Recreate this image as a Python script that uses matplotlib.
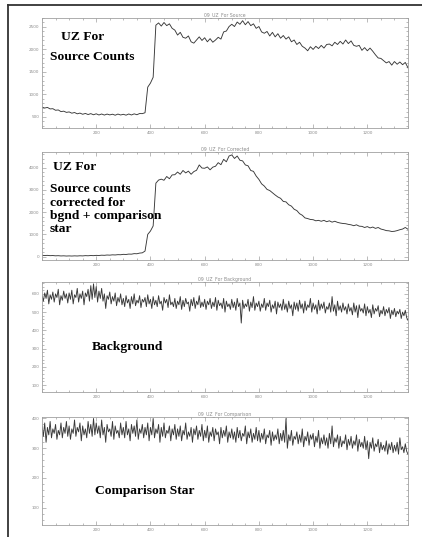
import numpy as np
import matplotlib; matplotlib.use("Agg")
import matplotlib.pyplot as plt
from matplotlib.lines import Line2D
from matplotlib.ticker import MultipleLocator

LINE = "#383838"; FRAME = "#a0a0a0"; LABEL = "#8a8a8a"

# sample index (coarse for the smooth panels, finer for the noisy ones)
x_coarse = np.arange(0, 1360, 10)
x_fine = np.arange(0, 1355, 5)

source = [
    715, 695, 708, 675, 680, 645, 652, 615, 625, 598,
    608, 580, 595, 566, 582, 556, 574, 550, 570, 545,
    566, 540, 562, 538, 560, 542, 557, 535, 560, 540,
    555, 536, 562, 540, 565, 546, 572, 570, 590, 1160,
    1250, 1380, 2540, 2590, 2520, 2600, 2530, 2570, 2470, 2430,
    2320, 2380, 2270, 2250, 2300, 2170, 2140, 2210, 2280, 2200,
    2260, 2170, 2240, 2160, 2210, 2270, 2230, 2390, 2410, 2510,
    2560, 2510, 2610, 2560, 2640, 2550, 2620, 2530, 2570, 2470,
    2510, 2390, 2360, 2400, 2300, 2380, 2280, 2350, 2250, 2310,
    2230, 2280, 2170, 2210, 2110, 2160, 2070, 2030, 1970, 2060,
    2000, 2070, 2020, 2090, 2030, 2110, 2120, 2080, 2160, 2110,
    2180, 2120, 2210, 2130, 2190, 2090, 2070, 2090, 1980, 2040,
    1970, 2030, 1960, 1880, 1810, 1800, 1750, 1700, 1730, 1650,
    1730, 1670, 1720, 1660, 1710, 1590,
]

corrected = [
    60, 52, 58, 45, 50, 38, 44, 32, 38, 28,
    34, 28, 36, 30, 40, 34, 46, 40, 52, 45,
    58, 52, 66, 60, 74, 68, 82, 76, 90, 86,
    104, 98, 116, 112, 136, 130, 160, 172, 250, 1000,
    1150, 1380, 3300, 3440, 3480, 3430, 3600, 3500, 3670, 3680,
    3800, 3700, 3870, 3760, 3840, 3700, 3820, 3880, 4120, 3980,
    3970, 4030, 3900, 4020, 4060, 4220, 4130, 4370, 4260, 4520,
    4570, 4410, 4520, 4330, 4300, 4120, 4080, 3870, 3830, 3620,
    3470, 3270, 3170, 3020, 2970, 2870, 2770, 2680, 2620, 2480,
    2460, 2330, 2270, 2130, 2070, 1930, 1860, 1740, 1710, 1670,
    1660, 1610, 1630, 1590, 1630, 1570, 1610, 1550, 1590, 1540,
    1510, 1490, 1480, 1450, 1430, 1390, 1430, 1370, 1360, 1310,
    1350, 1290, 1330, 1270, 1310, 1240, 1210, 1170, 1160, 1130,
    1140, 1170, 1210, 1240, 1310, 1230,
]

background = [
    590, 560, 605, 575, 620, 545, 595, 570, 610, 555, 600, 580, 625, 540, 590, 565, 615, 575, 600, 550,
    605, 570, 620, 545, 595, 580, 630, 555, 600, 575, 615, 540, 605, 585, 625, 560, 645, 570, 655, 580,
    640, 555, 615, 575, 630, 560, 600, 520, 590, 570, 610, 545, 585, 560, 605, 535, 580, 555, 600, 540,
    575, 530, 590, 550, 570, 520, 585, 545, 600, 535, 565, 550, 590, 525, 570, 555, 580, 530, 595, 545,
    570, 520, 585, 540, 565, 530, 590, 545, 560, 510, 580, 550, 570, 525, 595, 540, 555, 530, 575, 520,
    560, 540, 585, 515, 565, 530, 575, 545, 555, 505, 570, 535, 580, 520, 560, 540, 590, 525, 555, 530,
    570, 515, 560, 540, 575, 520, 555, 530, 580, 510, 565, 535, 550, 520, 575, 500, 560, 530, 545, 515,
    570, 525, 555, 510, 575, 530, 550, 440, 565, 520, 545, 530, 570, 505, 555, 525, 585, 510, 550, 530,
    560, 505, 545, 525, 575, 510, 550, 530, 565, 500, 540, 520, 560, 490, 555, 525, 545, 510, 570, 515,
    545, 500, 560, 520, 540, 480, 555, 515, 550, 505, 565, 520, 545, 495, 560, 510, 540, 525, 575, 500,
    550, 515, 540, 490, 565, 510, 545, 520, 555, 495, 530, 515, 550, 500, 585, 505, 540, 480, 560, 510,
    535, 500, 550, 510, 530, 490, 545, 505, 525, 485, 550, 500, 535, 470, 540, 505, 520, 495, 545, 480,
    530, 495, 515, 470, 540, 490, 520, 505, 535, 475, 510, 490, 530, 480, 515, 495, 525, 465, 510, 485,
    520, 475, 505, 490, 515, 465, 500, 480, 510, 470, 455,
]

comparison = [
    375, 340, 385, 320, 370, 345, 390, 335, 365, 350, 380, 330, 360, 345, 385, 335, 370, 350, 390, 340,
    375, 330, 365, 350, 395, 340, 370, 355, 385, 325, 375, 345, 365, 335, 390, 350, 380, 340, 400, 345,
    385, 350, 375, 335, 395, 345, 370, 320, 380, 355, 365, 340, 390, 330, 375, 350, 360, 335, 385, 345,
    370, 335, 390, 345, 365, 325, 380, 350, 375, 340, 395, 330, 365, 350, 380, 335, 370, 345, 385, 325,
    370, 345, 400, 335, 365, 350, 380, 320, 370, 340, 385, 335, 360, 350, 375, 325, 365, 345, 380, 330,
    365, 340, 375, 325, 360, 345, 385, 330, 355, 340, 370, 320, 365, 345, 375, 330, 360, 340, 380, 325,
    360, 335, 375, 320, 355, 340, 370, 325, 365, 345, 355, 315, 370, 335, 360, 340, 375, 320, 355, 335,
    365, 330, 355, 320, 370, 335, 360, 325, 350, 340, 375, 315, 355, 335, 365, 320, 350, 330, 370, 325,
    360, 320, 350, 330, 365, 315, 345, 335, 360, 310, 355, 325, 345, 330, 365, 315, 350, 325, 360, 320,
    400, 300, 345, 325, 360, 310, 340, 330, 355, 315, 345, 320, 365, 305, 340, 325, 355, 310, 345, 330,
    350, 305, 340, 320, 360, 300, 335, 315, 345, 310, 335, 300, 350, 315, 375, 305, 335, 320, 345, 300,
    340, 305, 325, 315, 345, 295, 330, 310, 340, 300, 325, 310, 345, 290, 330, 305, 320, 300, 340, 295,
    325, 265, 320, 300, 335, 290, 315, 305, 330, 285, 320, 295, 310, 290, 325, 280, 315, 295, 320, 285,
    310, 290, 320, 280, 335, 295, 305, 285, 315, 290, 280,
]

titles = ["09_UZ_For Source", "09_UZ_For Corrected",
          "09_UZ_For Background", "09_UZ_For Comparison"]
ylims = [(250, 2700), (-150, 4700), (62, 665), (42, 405)]
ymajor = [500, 1000, 100, 100]
yminor = [100, 200, 20, 20]

fig = plt.figure(figsize=(4.22, 5.37), dpi=100)
W, H = 422, 537
boxes = [(18, 128), (152, 260), (282, 392), (417, 525)]
series = [(x_coarse, source), (x_coarse, corrected),
          (x_fine, background), (x_fine, comparison)]

for i, (top, bot) in enumerate(boxes):
    ax = fig.add_axes([42 / W, 1 - bot / H, 366 / W, (bot - top) / H])
    xs, ys = series[i]
    ax.plot(xs, ys, color=LINE, lw=0.65)
    ax.set_xlim(0, 1350)
    ax.set_ylim(*ylims[i])
    ax.xaxis.set_major_locator(MultipleLocator(200))
    ax.xaxis.set_minor_locator(MultipleLocator(50))
    ax.yaxis.set_major_locator(MultipleLocator(ymajor[i]))
    ax.yaxis.set_minor_locator(MultipleLocator(yminor[i]))
    ax.tick_params(which="both", direction="in", top=True, right=True,
                   color=FRAME, width=0.5, labelsize=3, labelcolor=LABEL, pad=2)
    ax.tick_params(which="major", length=3)
    ax.tick_params(which="minor", length=1.5)
    ax.set_xticks([200, 400, 600, 800, 1000, 1200])
    for s in ax.spines.values():
        s.set_color(FRAME); s.set_linewidth(0.6)
    ax.set_title(titles[i], fontsize=3.3, color=LABEL, pad=1.5)

def label(txt, x, y):
    fig.text(x / W, 1 - y / H, txt, family="Liberation Serif", fontweight="bold",
             fontsize=9.7, va="center", ha="left", color="black")

label("UZ For", 61, 37)
label("Source Counts", 50, 57)
label("UZ For", 53, 167)
label("Source counts", 50, 189)
label("corrected for", 50, 202.5)
label("bgnd + comparison", 50, 216)
label("star", 50, 229)
label("Background", 92, 347)
label("Comparison Star", 95, 491)

# frame of the page
fig.add_artist(Line2D([8 / W, 8 / W], [0, 1 - 5 / H], transform=fig.transFigure,
                      color="#333333", lw=1.3))
fig.add_artist(Line2D([8 / W, 1], [1 - 5 / H, 1 - 5 / H], transform=fig.transFigure,
                      color="#333333", lw=1.3))

fig.savefig("out.png", dpi=100)
